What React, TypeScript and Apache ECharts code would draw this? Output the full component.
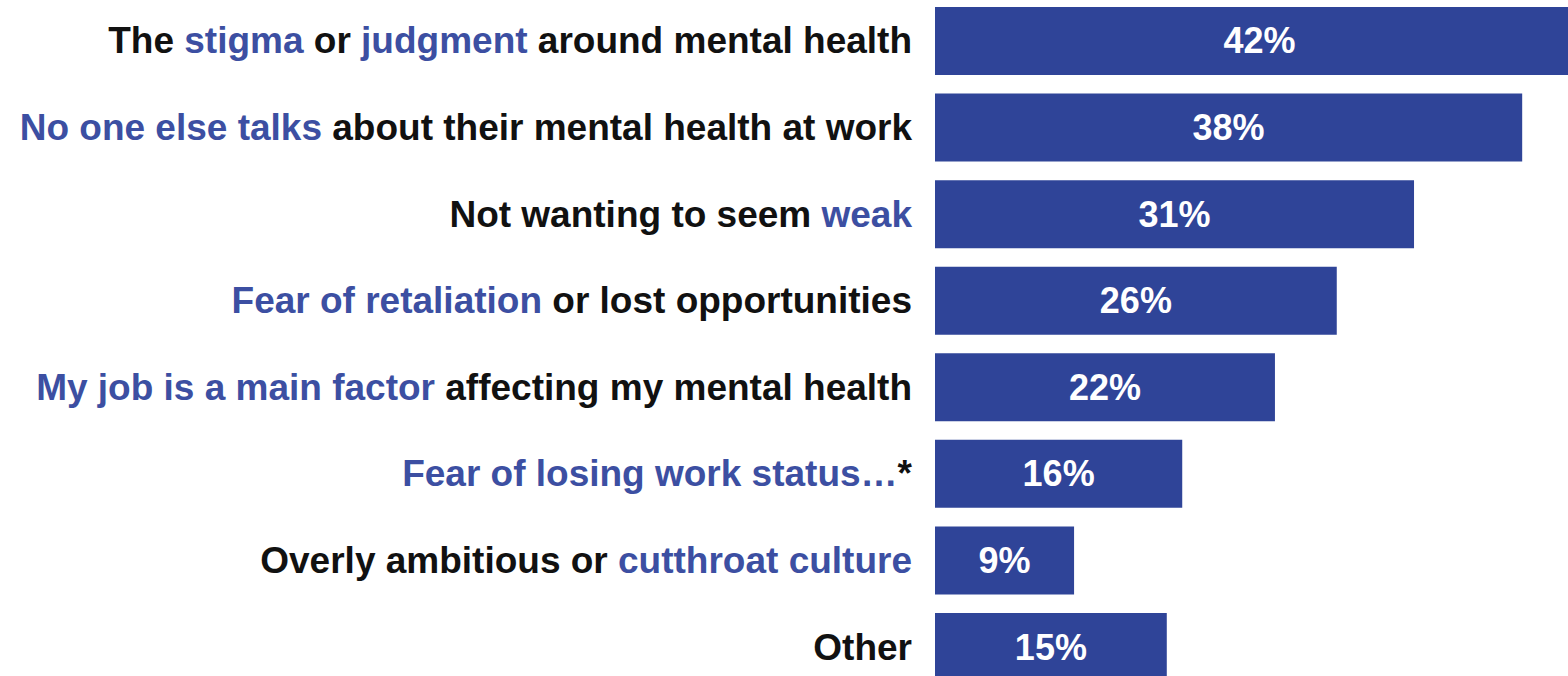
import React, { useEffect, useRef } from "react";
import * as echarts from "echarts";

const categories = [
  "The stigma or judgment around mental health",
  "No one else talks about their mental health at work",
  "Not wanting to seem weak",
  "Fear of retaliation or lost opportunities",
  "My job is a main factor affecting my mental health",
  "Fear of losing work status…*",
  "Overly ambitious or cutthroat culture",
  "Other",
];
const values = [42, 38, 31, 26, 22, 16, 9, 15];
const highlights: string[][] = [
  ["stigma", "judgment"],
  ["No one else talks"],
  ["weak"],
  ["Fear of retaliation"],
  ["My job is a main factor"],
  ["Fear of losing work status…"],
  ["cutthroat culture"],
  [],
];

const BAR = "#2f4498";
const BLUE = "#3c4fa2";
const DARK = "#111111";
const FONT = "'Liberation Sans', Arial, Helvetica, sans-serif";

function richLabel(cat: string): string {
  const idx = categories.indexOf(cat);
  const hs = idx >= 0 ? highlights[idx] : [];
  const parts: string[] = [];
  let rest = cat;
  while (rest.length) {
    let best = -1;
    let bestH = "";
    for (const h of hs) {
      const p = rest.indexOf(h);
      if (p >= 0 && (best < 0 || p < best)) {
        best = p;
        bestH = h;
      }
    }
    if (best < 0) {
      parts.push(`{k|${rest}}`);
      break;
    }
    if (best > 0) parts.push(`{k|${rest.slice(0, best)}}`);
    parts.push(`{b|${bestH}}`);
    rest = rest.slice(best + bestH.length);
  }
  return parts.join("");
}

export default function App() {
  const ref = useRef<HTMLDivElement>(null);
  useEffect(() => {
    if (!ref.current) return;
    const chart = echarts.init(ref.current, undefined, { renderer: "svg" });
    chart.setOption({
      animation: false,
      backgroundColor: "#ffffff",
      grid: { left: 935, top: 2.7, width: 649, height: 692.6, containLabel: false },
      xAxis: { type: "value", min: 0, max: 42, show: false },
      yAxis: {
        type: "category",
        inverse: true,
        data: categories,
        axisLine: { show: false },
        axisTick: { show: false },
        splitLine: { show: false },
        axisLabel: {
          margin: 23,
          formatter: (v: string) => richLabel(v),
          rich: {
            k: { color: DARK, fontSize: 37, fontWeight: "bold", fontFamily: FONT },
            b: { color: BLUE, fontSize: 37, fontWeight: "bold", fontFamily: FONT },
          },
        },
      },
      series: [
        {
          type: "bar",
          data: values,
          barWidth: 68,
          clip: true,
          itemStyle: { color: BAR },
          label: {
            show: true,
            position: "inside",
            formatter: "{c}%",
            color: "#ffffff",
            fontSize: 36,
            fontWeight: "bold",
            fontFamily: FONT,
          },
        },
      ],
    });
    return () => chart.dispose();
  }, []);
  return (
    <div
      style={{
        position: "fixed",
        left: 0,
        top: 0,
        width: 1568,
        height: 676,
        overflow: "hidden",
        background: "#fff",
      }}
    >
      <div
        ref={ref}
        style={{ position: "absolute", left: 0, top: -5, width: 1600, height: 700 }}
      />
    </div>
  );
}
